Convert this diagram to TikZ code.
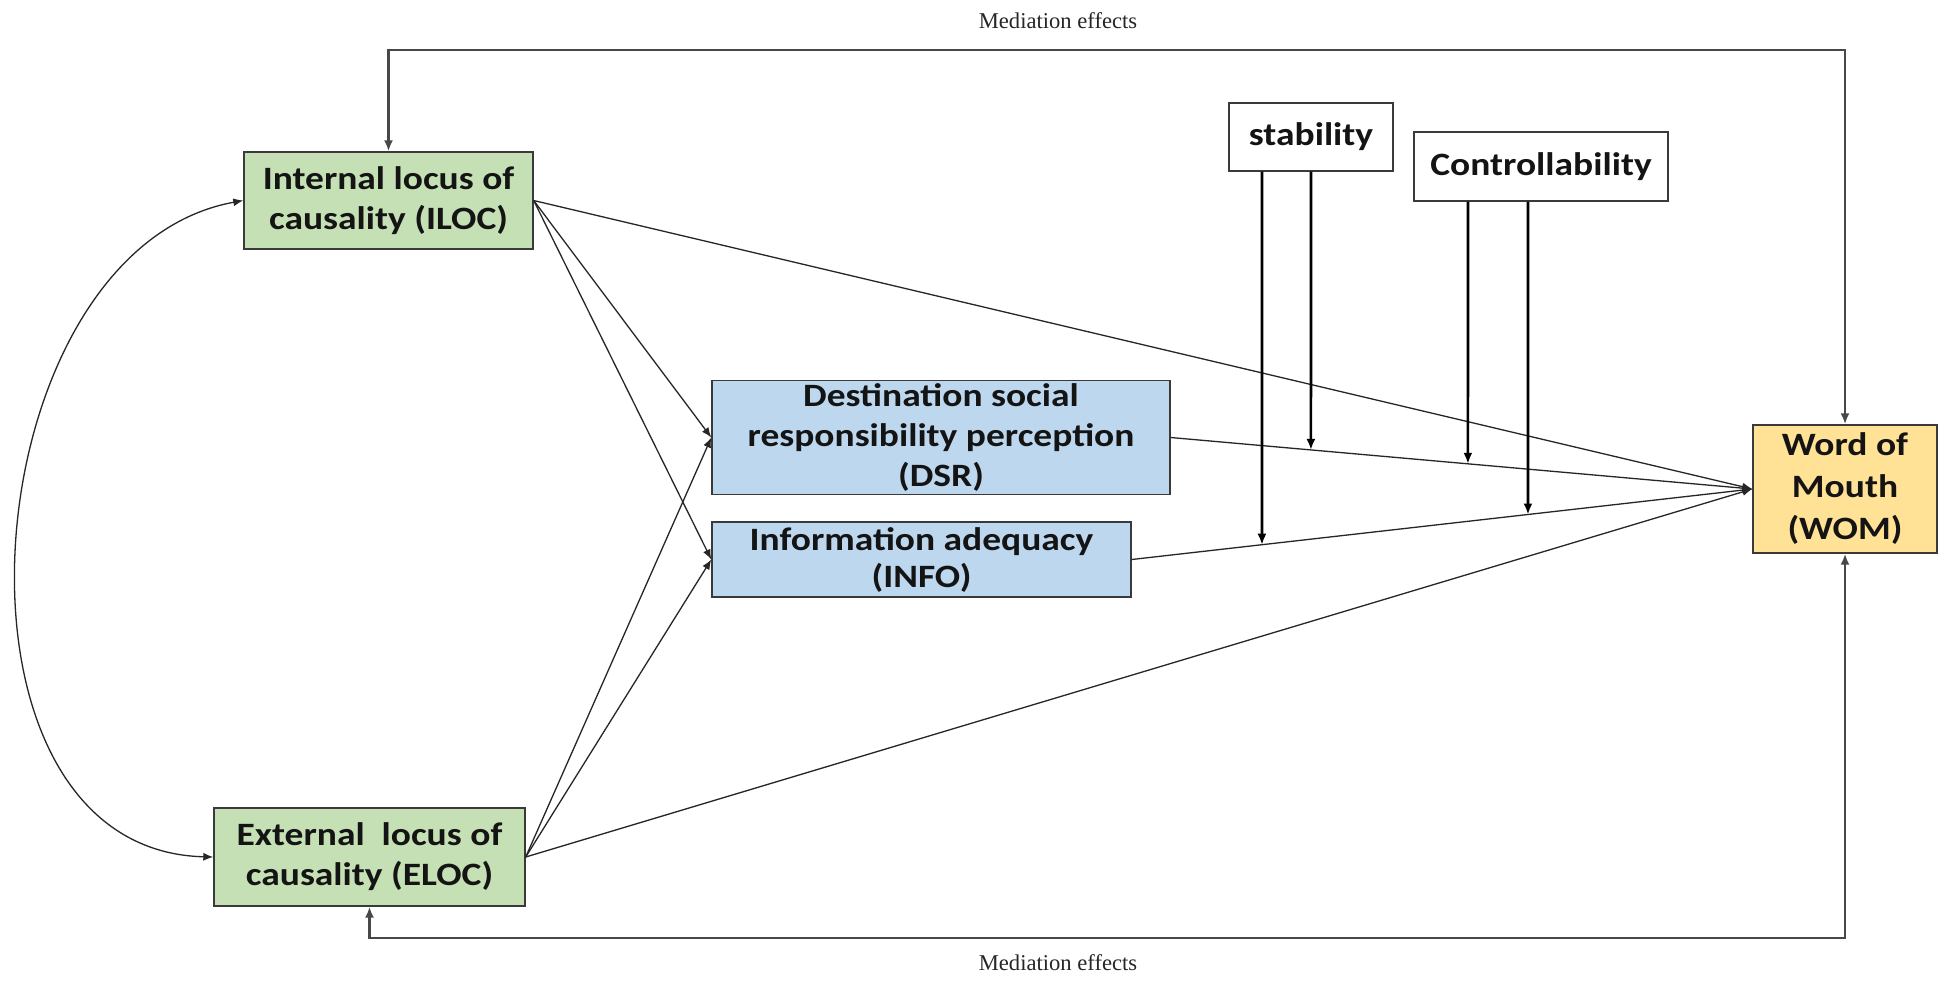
\documentclass[tikz,border=0pt]{standalone}
\usepackage{fontspec}
\setmainfont{Liberation Serif}
\newfontfamily\boxfont{Carlito}[FakeStretch=1.15]
\usetikzlibrary{arrows.meta,calc}

\definecolor{boxline}{HTML}{3A3A3A}
\definecolor{locgreen}{HTML}{C5E0B4}
\definecolor{medblue}{HTML}{BDD7EE}
\definecolor{womgold}{HTML}{FFE296}
\definecolor{medline}{HTML}{484848}

\begin{document}
\begin{tikzpicture}[x=0.5pt,y=-0.5pt,
  box/.style={draw=boxline, line width=0.7pt, inner sep=0pt, align=center,
    text=black!92, font=\boxfont\bfseries\fontsize{16.3}{20}\selectfont},
  locbox/.style={box, fill=locgreen},
  mediatorbox/.style={box, fill=medblue},
  outbox/.style={box, fill=womgold},
  modbox/.style={box, fill=white},
  path/.style={draw=black!85, line width=0.65pt, -{Latex[length=5pt,width=4pt]}},
  modarrow/.style={draw=black, line width=1.3pt, -{Latex[length=5.5pt,width=4.5pt]}},
  medpath/.style={draw=medline, line width=1.1pt,
    {Latex[length=5.5pt,width=4.5pt]}-{Latex[length=5.5pt,width=4.5pt]}},
  medlabel/.style={font=\fontsize{11.3}{13}\selectfont, inner sep=0pt, text=black!85},
]
\useasboundingbox (0,0) rectangle (1944,981);
\fill[white] (0,0) rectangle (1944,981);

% attribution boxes
\node[locbox, minimum width=144.5pt, minimum height=48.5pt] (ILOC) at (388.5,200.5)
  {Internal locus of\\causality (ILOC)};
\node[locbox, minimum width=155.5pt, minimum height=49pt] (ELOC) at (369.5,857)
  {External\ \ locus of\\causality (ELOC)};

% mediators
\node[mediatorbox, minimum width=229pt, minimum height=57pt] (DSR) at (941,437.5)
  {Destination social\\responsibility perception\\(DSR)};
\node[mediatorbox, minimum width=209.5pt, minimum height=37.5pt,
  font=\boxfont\bfseries\fontsize{16.3}{18.5}\selectfont] (INFO) at (921.5,559.5)
  {Information adequacy\\(INFO)};

% outcome
\node[outbox, minimum width=92pt, minimum height=64pt,
  font=\boxfont\bfseries\fontsize{16.3}{21}\selectfont] (WOM) at (1845,489)
  {Word of\\Mouth\\(WOM)};

% moderators
\node[modbox, minimum width=82pt, minimum height=34pt] (stab) at (1311,137) {stability};
\node[modbox, minimum width=127pt, minimum height=34.5pt] (ctrl) at (1541,166.5) {Controllability};

% mediation labels
\node[medlabel] (medtop) at (1058,21) {Mediation effects};
\node[medlabel] (medbot) at (1058,963) {Mediation effects};

% correlation between the two loci
\draw[draw=black!85, line width=0.65pt,
  {Latex[length=5pt,width=4pt]}-{Latex[length=5pt,width=4pt]}]
  (ILOC.west) .. controls (-30,250) and (-75,850) .. (ELOC.west);

% direct and indirect paths
\path[path] (ILOC.east) -- (DSR.west);
\path[path] (ILOC.east) -- (INFO.west);
\path[path] (ILOC.east) -- (WOM.west);
\path[path] (ELOC.east) -- (DSR.west);
\path[path] (ELOC.east) -- (INFO.west);
\path[path] (ELOC.east) -- (WOM.west);
\path[path] (DSR.east) -- (WOM.west);
\path[path] (INFO.east) -- (WOM.west);

% moderation arrows ending on the mediator paths
\coordinate (de) at (DSR.east);
\coordinate (ie) at (INFO.east);
\coordinate (ww) at (WOM.west);
\coordinate (s1) at ([xshift=-24.5pt]stab.south);
\coordinate (s2) at (stab.south);
\coordinate (c1) at ([xshift=-36.5pt]ctrl.south);
\coordinate (c2) at ([xshift=-6.5pt]ctrl.south);
\coordinate (s1b) at (s1 |- INFO.south);
\coordinate (s2b) at (s2 |- INFO.south);
\coordinate (c1b) at (c1 |- INFO.south);
\coordinate (c2b) at (c2 |- INFO.south);
\path[modarrow] (s1) -- (intersection of s1--s1b and ie--ww);
\path[modarrow] (s2) -- (intersection of s2--s2b and de--ww);
\path[modarrow] (c1) -- (intersection of c1--c1b and de--ww);
\path[modarrow] (c2) -- (intersection of c2--c2b and ie--ww);

% mediation feedback lines
\coordinate (mtop) at (1100,50);
\coordinate (mbot) at (1100,938);
\path[medpath] (ILOC.north) |- (mtop) -| (WOM.north);
\path[medpath] (ELOC.south) |- (mbot) -| (WOM.south);
\end{tikzpicture}
\end{document}
